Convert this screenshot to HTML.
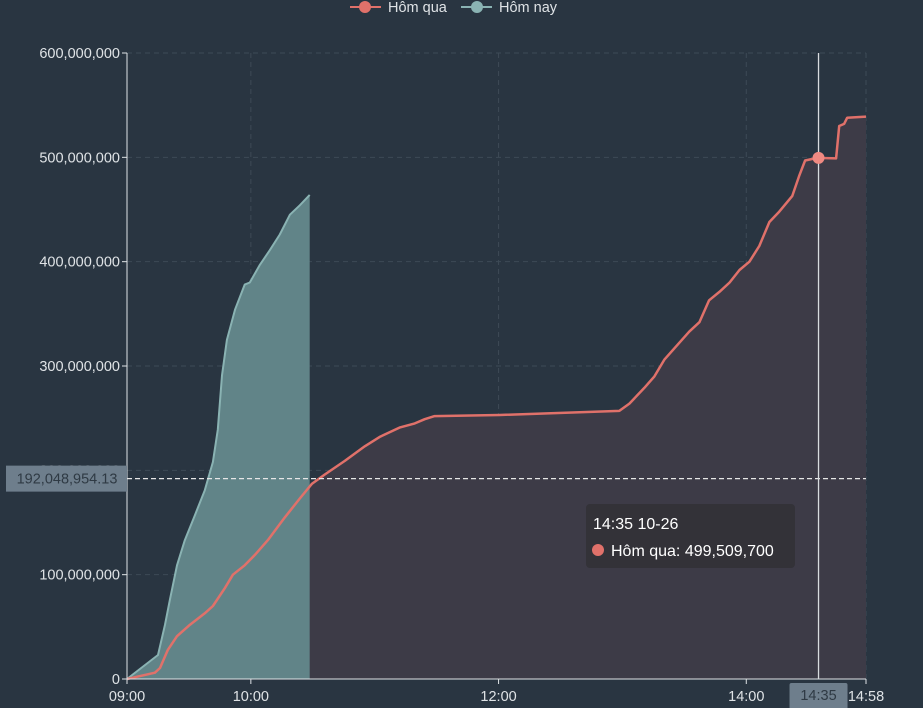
<!DOCTYPE html>
<html><head><meta charset="utf-8"><style>
html,body{margin:0;padding:0;background:#293541;}
body{width:923px;height:708px;overflow:hidden;font-family:"Liberation Sans",sans-serif;}
svg{display:block;}
svg text{font-family:"Liberation Sans",sans-serif;}
</style></head><body>
<svg id="chart" width="923" height="708" xmlns="http://www.w3.org/2000/svg">
<rect width="923" height="708" fill="#293541"/>
<g id="grid"></g>
<g id="series"></g>
<g id="axes"></g>
<g id="overlay"></g>
</svg>
<script>
const yTicks=[0,100,200,300,400,500,600];
const yTickLabels=["0","100,000,000","200,000,000","300,000,000","400,000,000","500,000,000","600,000,000"];
const xTicks=[0,60,180,300,358];
const xTickLabels=["09:00","10:00","12:00","14:00","14:58"];
const yesterdayTimes=[0,13.5,16,19.8,24.2,30.5,37.7,41.6,47.4,51.3,57,62,68.2,76.5,83.7,89.5,95.8,105.5,115.2,122.4,132,139.4,144.2,149,180.5,238.5,243.4,250.6,255.5,260.3,265.2,272.4,277.3,282,287,291.9,296.7,301.5,306.3,311.2,316,322.3,325.6,328.5,334.4,343.5,345,347.4,348.9,358];
const yesterdayValues=[0,6,10.5,28,41,52,63,70,87,100,109,119,133,155,173,187,196,209,223,232,241,245,249,252,253,257,264,279,290,306,317,333,342,363,371,380,392,400,415,438,448,463,482,497,499.5,499,530,532,538,539];
const todayTimes=[0,15,18.4,20.8,24.2,28,32.9,37.7,41.6,44,46,48.4,52.3,57,59.5,64.4,69.2,74,78.9,83.7,88.5];
const todayValues=[0,23,52,76,109,133,157,181,208,239,291,325,354,378,380,397,411,426,445,454,464];
const avgValue=192.04895413;
const hoverTime=335, hoverValue=499.5097;

const X0=127,X1=866,Y0=679,Y1=53;
const xs=t=>X0+t*(X1-X0)/358;
const ys=v=>Y0-v*(Y0-Y1)/600;
const NS="http://www.w3.org/2000/svg";
const FS='14.5';
function mk(tag,attrs,parent,txt){const e=document.createElementNS(NS,tag);for(const k in attrs)e.setAttribute(k,attrs[k]);if(txt!==undefined)e.textContent=txt;parent.appendChild(e);return e;}
const grid=document.getElementById('grid'),series=document.getElementById('series'),axes=document.getElementById('axes'),ov=document.getElementById('overlay');

yTicks.forEach((v,i)=>{
 if(v>0){const l=mk('line',{x1:X0,x2:X1,y1:ys(v),y2:ys(v),stroke:'#3d4a56','stroke-dasharray':'5,4'},grid);
 
 }
 const t=mk('text',{x:X0-7,y:ys(v)+5,'text-anchor':'end','font-size':FS,fill:'#dfe3e6'},axes,yTickLabels[i]);
 
 
 mk('line',{x1:X0-5,x2:X0,y1:ys(v),y2:ys(v),stroke:'#dfe3e6'},axes);
});
xTicks.forEach((m,i)=>{
 if(m>0){const l=mk('line',{x1:xs(m),x2:xs(m),y1:Y1,y2:Y0,stroke:'#3d4a56','stroke-dasharray':'5,4'},grid);
 
 }
 mk('line',{x1:xs(m),x2:xs(m),y1:Y0,y2:Y0+5,stroke:'#dfe3e6'},axes);
 const t=mk('text',{x:xs(m),y:Y0+22,'text-anchor':'middle','font-size':FS,fill:'#dfe3e6'},axes,xTickLabels[i]);
 
 
});
function pts(T,V){return T.map((t,i)=>xs(t).toFixed(1)+','+ys(V[i]).toFixed(1)).join(' ');}
function area(T,V){return 'M'+xs(T[0])+','+Y0+' L'+pts(T,V).split(' ').join(' L')+' L'+xs(T[T.length-1])+','+Y0+' Z';}
const ya=mk('path',{d:area(yesterdayTimes,yesterdayValues),fill:'#3d3b47'},series);


const ta=mk('path',{d:area(todayTimes,todayValues),fill:'#618488'},series);


const tl=mk('polyline',{points:pts(todayTimes,todayValues),fill:'none',stroke:'#8ab3b3','stroke-width':'2','stroke-linejoin':'round'},series);


const yl=mk('polyline',{points:pts(yesterdayTimes,yesterdayValues),fill:'none',stroke:'#e0716a','stroke-width':'2.5','stroke-linejoin':'round'},series);



mk('line',{x1:X0,x2:X0,y1:Y1,y2:Y0,stroke:'#dfe3e6'},axes);
mk('line',{x1:X0,x2:X1,y1:Y0,y2:Y0,stroke:'#dfe3e6'},axes);

const al=mk('line',{x1:X0,x2:X1,y1:ys(avgValue),y2:ys(avgValue),stroke:'#e6e6e6','stroke-dasharray':'5,3','stroke-width':'1.2'},ov);


const ab=mk('rect',{x:6,y:ys(avgValue)-13,width:121,height:26,fill:'#6e7e8c'},ov);


mk('text',{x:67,y:ys(avgValue)+5,'text-anchor':'middle','font-size':FS,fill:'#2f3a44'},ov,'192,048,954.13');
const cx=mk('line',{x1:xs(hoverTime),x2:xs(hoverTime),y1:Y1,y2:Y0,stroke:'#d8dcdf','stroke-width':'1.3'},ov);


const hp=mk('circle',{cx:xs(hoverTime),cy:ys(hoverValue),r:6,fill:'#f08a82'},ov);


const xl=mk('rect',{x:xs(hoverTime)-29,y:683,width:58,height:30,fill:'#6e7e8c',rx:2},ov);


mk('text',{x:xs(hoverTime),y:700,'text-anchor':'middle','font-size':FS,fill:'#2f3a44'},ov,'14:35');
const tt=mk('g',{},ov);


mk('rect',{x:586,y:504,width:209,height:64,rx:4,fill:'#333238'},tt);
mk('text',{x:593,y:529,'font-size':'16',fill:'#ffffff'},tt,'14:35 10-26');
mk('circle',{cx:598,cy:550,r:6,fill:'#e0716a'},tt);
mk('text',{x:611,y:556,'font-size':'16',fill:'#ffffff'},tt,'Hôm qua: 499,509,700');
const lg=mk('g',{},ov);


const e1=mk('g',{},lg);


mk('line',{x1:350,x2:381,y1:7,y2:7,stroke:'#e0716a','stroke-width':'2'},e1);
mk('circle',{cx:365,cy:7,r:6,fill:'#e0716a'},e1);
mk('text',{x:388,y:12,'font-size':FS,fill:'#dfe3e6'},e1,'Hôm qua');
const e2=mk('g',{},lg);


mk('line',{x1:461,x2:492,y1:7,y2:7,stroke:'#8ab3b3','stroke-width':'2'},e2);
mk('circle',{cx:477,cy:7,r:6,fill:'#8ab3b3'},e2);
mk('text',{x:499,y:12,'font-size':FS,fill:'#dfe3e6'},e2,'Hôm nay');
</script>
</body></html>
